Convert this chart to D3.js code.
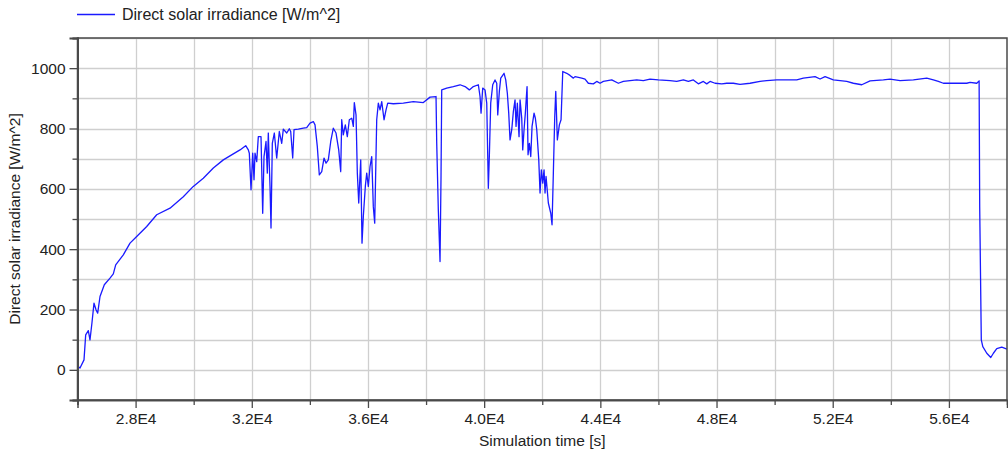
<!DOCTYPE html>
<html>
<head>
<meta charset="utf-8">
<script src="https://cdn.jsdelivr.net/npm/d3@7"></script>
<style>
html,body{margin:0;padding:0;background:#fff;}
svg{display:block;}
text{font-family:"Liberation Sans",Arial,sans-serif;fill:#222;}
</style>
</head>
<body>
<svg id="chart" width="1008" height="452"></svg>
<script>
// ---- data ----
const seriesName = "Direct solar irradiance [W/m^2]";
const xTitle = "Simulation time [s]";
const yTitle = "Direct solar irradiance [W/m^2]";
const times = [26000,26086,26224,26282,26372,26430,26499,26568,26637,26695,26775,26923,27119,27233,27315,27577,27808,28038,28383,28727,29185,29643,29987,30331,30676,31020,31364,31595,31791,31881,31915,31974,32032,32077,32111,32170,32225,32318,32376,32421,32490,32535,32569,32628,32662,32707,32776,32858,32948,33031,33086,33203,33292,33340,33409,33454,33602,33774,33891,34005,34119,34177,34256,34325,34408,34487,34556,34635,34718,34807,34900,34993,35062,35096,35151,35220,35289,35358,35441,35496,35530,35589,35634,35682,35751,35795,35840,35909,35957,36012,36071,36129,36184,36232,36301,36357,36415,36474,36553,36622,36680,36873,37217,37562,37906,38137,38343,38367,38422,38481,38515,38539,38711,38939,39170,39342,39490,39628,39800,39858,39893,39951,40030,40089,40144,40178,40226,40295,40374,40433,40468,40523,40571,40685,40743,40798,40846,40891,40950,41005,41063,41098,41143,41201,41236,41294,41328,41373,41418,41477,41511,41556,41604,41649,41718,41763,41811,41880,41924,41969,42017,42062,42096,42131,42210,42293,42337,42382,42430,42465,42520,42589,42647,42706,42843,42955,43071,43128,43359,43473,43587,43759,43876,43990,44103,44393,44620,44792,45253,45480,45711,45997,46400,46630,46858,47030,47202,47374,47546,47663,47777,47949,48180,48352,48579,48810,49154,49499,49729,50073,50762,50989,51392,51564,51737,52022,52484,52711,53000,53286,53744,53975,54319,54777,55238,55465,55637,55809,56615,56728,56959,57040,57060,57115,57167,57304,57442,57531,57648,57820,58000];
const values = [13,6,33,116,130,99,157,221,199,188,243,282,304,318,348,381,420,442,475,514,536,574,608,635,669,696,716,729,743,729,718,597,718,630,718,690,773,773,519,707,757,652,785,608,470,751,785,702,790,751,798,785,799,790,702,796,798,801,803,818,823,812,740,646,657,702,685,696,757,801,785,729,657,829,779,812,773,829,834,807,886,845,652,553,696,420,508,608,652,608,674,707,541,486,829,884,862,889,829,862,884,882,884,889,886,904,906,751,530,359,641,928,934,939,945,939,928,939,945,906,851,934,928,884,602,707,884,945,961,950,845,923,967,983,961,917,851,762,796,856,895,807,884,773,895,834,729,796,851,939,713,751,707,807,851,834,796,696,586,663,619,663,586,641,553,519,481,652,840,923,762,812,829,989,983,976,967,972,967,964,950,948,956,950,956,961,950,956,961,959,964,961,959,956,961,956,961,948,956,948,956,950,948,950,950,946,950,956,959,961,961,967,972,964,972,961,956,950,945,958,961,964,959,961,967,961,956,950,950,953,950,958,541,99,77,55,41,55,70,75,69];
const xDomain = [26000, 58000];
const yDomain = [-100, 1100];
const xMajorTicks = [28000,32000,36000,40000,44000,48000,52000,56000];
const xTickLabels = ["2.8E4","3.2E4","3.6E4","4.0E4","4.4E4","4.8E4","5.2E4","5.6E4"];
const xGridTicks = [28000,30000,32000,34000,36000,38000,40000,42000,44000,46000,48000,50000,52000,54000,56000];
const yMajorTicks = [0,200,400,600,800,1000];
const yTickLabels = ["0","200","400","600","800","1000"];
const yGridTicks = [-100,0,100,200,300,400,500,600,700,800,900,1000,1100];

// ---- drawing ----
const svg = d3.select("#chart");
const L = 77.5, R = 1007, T = 38, B = 400;
const x = d3.scaleLinear().domain(xDomain).range([L, R]);
const y = d3.scaleLinear().domain(yDomain).range([B, T]);
const fs = "15.5px";
const axisCol = "#4a4a4a";
const gridCol = "#cfcfcf";

// gridlines
const g = svg.append("g");
g.selectAll(".vg").data(xGridTicks).join("line")
  .attr("x1", d => Math.round(x(d)) + 0.5).attr("x2", d => Math.round(x(d)) + 0.5)
  .attr("y1", T).attr("y2", B)
  .attr("stroke", gridCol).attr("stroke-width", 1.3);
g.selectAll(".hg").data(yGridTicks).join("line")
  .attr("y1", d => Math.round(y(d)) + 0.5).attr("y2", d => Math.round(y(d)) + 0.5)
  .attr("x1", L).attr("x2", R)
  .attr("stroke", gridCol).attr("stroke-width", 1.3);

// line
const line = d3.line().x((d, i) => x(times[i])).y(d => y(d));
svg.append("path").datum(values)
  .attr("d", line)
  .attr("fill", "none")
  .attr("stroke", "#1a1aff")
  .attr("stroke-width", 1.3)
  .attr("stroke-linejoin", "round");

// frame
svg.append("rect").attr("x", L).attr("y", T).attr("width", R - L).attr("height", B - T)
  .attr("fill", "none").attr("stroke", axisCol).attr("stroke-width", 1.5);

// x axis
const xAxisMajor = d3.axisBottom(x).tickValues(xMajorTicks)
  .tickFormat((d, i) => xTickLabels[i]).tickSize(8).tickPadding(5);
const xAxisMinor = d3.axisBottom(x).tickValues(xGridTicks.filter(v => !xMajorTicks.includes(v)).concat([26000]))
  .tickFormat("").tickSize(5);
const xa2 = svg.append("g").attr("transform", `translate(0,${B})`).call(xAxisMinor);
const xa = svg.append("g").attr("transform", `translate(0,${B})`).call(xAxisMajor);
[xa, xa2].forEach(a => {
  a.select(".domain").attr("stroke", axisCol).attr("stroke-width", 1.5);
  a.selectAll(".tick line").attr("stroke", axisCol).attr("stroke-width", 1.3);
  a.selectAll(".tick text").attr("font-size", fs).attr("font-family", null).attr("fill", "#222");
});

// y axis
const yAxisMajor = d3.axisLeft(y).tickValues(yMajorTicks)
  .tickFormat((d, i) => yTickLabels[i]).tickSize(8).tickPadding(4);
const yAxisMinor = d3.axisLeft(y).tickValues(yGridTicks.filter(v => !yMajorTicks.includes(v)))
  .tickFormat("").tickSize(5);
const ya2 = svg.append("g").attr("transform", `translate(${L},0)`).call(yAxisMinor);
const ya = svg.append("g").attr("transform", `translate(${L},0)`).call(yAxisMajor);
[ya, ya2].forEach(a => {
  a.select(".domain").attr("stroke", axisCol).attr("stroke-width", 2);
  a.selectAll(".tick line").attr("stroke", axisCol).attr("stroke-width", 1.3);
  a.selectAll(".tick text").attr("font-size", fs).attr("font-family", null).attr("fill", "#222");
});

// axis titles
svg.append("text").attr("x", (L + R) / 2).attr("y", 446)
  .attr("text-anchor", "middle").attr("font-size", fs).text(xTitle);
svg.append("text").attr("transform", `translate(19.5,${(T + B) / 2}) rotate(-90)`)
  .attr("text-anchor", "middle").attr("font-size", fs).text(yTitle);

// legend
svg.append("line").attr("x1", 77).attr("x2", 115).attr("y1", 14.5).attr("y2", 14.5)
  .attr("stroke", "#1a1aff").attr("stroke-width", 1.3);
svg.append("text").attr("x", 122).attr("y", 19.5).attr("font-size", "16px").text(seriesName);
</script>
</body>
</html>
